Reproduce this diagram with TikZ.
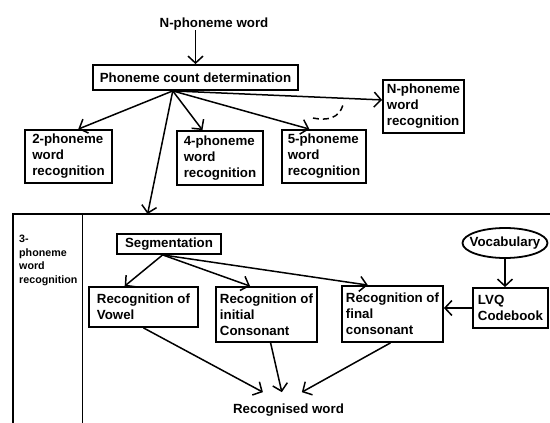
\documentclass[tikz,border=0pt]{standalone}
\usepackage{fontspec}
\setmainfont{Liberation Sans}
\usetikzlibrary{arrows.meta,calc,shapes.geometric}
\begin{document}
\begin{tikzpicture}[x=1pt,y=-1pt,
  lbl/.style={font=\fontsize{13.3}{16}\selectfont\bfseries, align=left, inner sep=0pt},
  smalllbl/.style={font=\fontsize{10.7}{13.5}\selectfont\bfseries, align=left, inner sep=0pt},
  bx/.style={lbl, draw, line width=1.8pt},
  arr/.style={line width=1.5pt, -{Straight Barb[length=7pt,width=15pt]}},
  frameline/.style={line width=1.8pt},
  dashline/.style={line width=1.5pt, dash pattern=on 6pt off 4pt}
]
\useasboundingbox[fill=white] (0,0) rectangle (550,423);

% top part
\node[lbl] (nword) at (214,24) {N-phoneme word};
\node[bx, minimum width=205pt, minimum height=25pt] (pcd) at (195.5,77.5) {Phoneme count determination};
\node[bx, minimum width=87pt, minimum height=53pt] (b2) at (68.5,156.5) {2-phoneme\\word\\recognition};
\node[bx, minimum width=86pt, minimum height=54pt] (b4) at (220,158) {4-phoneme\\word\\recognition};
\node[bx, minimum width=84pt, minimum height=53pt] (b5) at (324,156.5) {5-phoneme\\word\\recognition};
\node[bx, minimum width=81pt, minimum height=53pt] (bN) at (423.5,106.5) {N-phoneme\\word\\recognition};

% frame of the 3-phoneme part
\node[inner sep=0pt, minimum width=538pt, minimum height=212pt, anchor=north west] (three) at (13,214) {};
\node[inner sep=0pt, minimum width=69pt, minimum height=212pt, anchor=north west] (col) at (13,214) {};
\draw[frameline] (three.south west) -- (three.north west) -- (three.north east);
\draw[frameline] (col.north east) -- (col.south east);
\node[smalllbl, anchor=north west] (lab3) at (19,235) {3-\\phoneme\\word\\recognition};

% inner part
\node[bx, minimum width=104pt, minimum height=20pt] (seg) at (169,244) {Segmentation};
\node[bx, minimum width=109pt, minimum height=40pt] (vow) at (143.5,307) {Recognition of\\Vowel};
\node[bx, minimum width=101pt, minimum height=55pt] (ini) at (266.5,314.5) {Recognition of\\initial\\Consonant};
\node[bx, minimum width=101pt, minimum height=56pt] (fin) at (392.5,314) {Recognition of\\final\\consonant};
\node[lbl, draw, ellipse, line width=1.8pt, minimum width=85pt, minimum height=30pt] (voc) at (505,243) {\makebox[40pt]{Vocabulary}};
\node[bx, minimum width=75pt, minimum height=40pt] (lvq) at (510.5,308) {LVQ\\Codebook};
\node[lbl, inner ysep=11pt, anchor=base] (rw) at (288.5,413) {Recognised word};

% connectors top
\coordinate (src) at ($(pcd.south west)!0.39!(pcd.south east)$);
\draw[arr] (nword.south -| pcd.north) -- (pcd.north);
\draw[arr] (src) -- ($(b2.north west)!0.61!(b2.north east)$);
\draw[arr] (src) -- ($(b4.north west)!0.30!(b4.north east)$);
\draw[arr] (src) -- ($(b5.north west)!0.33!(b5.north east)$);
\draw[arr] (src) -- ($(bN.north west)!0.38!(bN.south west)$);
\draw[arr] (src) -- ($(three.north west)!0.25!(three.north east)$);
\coordinate (d1) at (313,118);
\coordinate (d2) at (343,105);
\draw[dashline] (d1) .. controls (328,121) and (339,118) .. (d2);

% connectors bottom
\coordinate (segout) at ($(seg.south west)!0.44!(seg.south east)$);
\draw[arr] (segout) -- ($(vow.north west)!0.33!(vow.north east)$);
\draw[arr] (segout) -- ($(ini.north west)!0.34!(ini.north east)$);
\draw[arr] (segout) -- ($(fin.north west)!0.26!(fin.north east)$);
\draw[arr] (voc.south) -- (voc.south |- lvq.north);
\draw[arr] (lvq.west) -- (lvq.west -| fin.east);
\draw[arr] (vow.south) -- ($(rw.north west)!0.27!(rw.north east)$);
\draw[arr] ($(ini.south west)!0.54!(ini.south east)$) -- ($(rw.north west)!0.44!(rw.north east)$);
\draw[arr] ($(fin.south west)!0.48!(fin.south east)$) -- ($(rw.north west)!0.62!(rw.north east)$);
\end{tikzpicture}
\end{document}
